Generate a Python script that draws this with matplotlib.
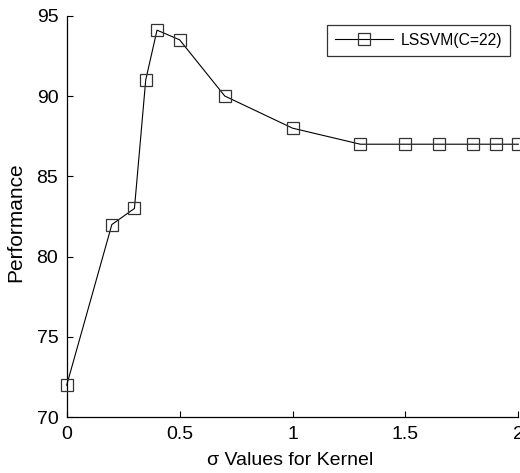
import matplotlib
matplotlib.use("Agg")
import matplotlib.pyplot as plt

plt.rcParams['font.family'] = ['Liberation Sans', 'DejaVu Sans']

sigma = [0.0, 0.2, 0.3, 0.35, 0.4, 0.5, 0.7, 1.0, 1.3, 1.5, 1.65, 1.8, 1.9, 2.0]
performance = [72.0, 82.0, 83.0, 91.0, 94.1, 93.5, 90.0, 88.0, 87.0, 87.0, 87.0, 87.0, 87.0, 87.0]
series_label = "LSSVM(C=22)"
xticks = [0, 0.5, 1, 1.5, 2]
xtick_labels = ["0", "0.5", "1", "1.5", "2"]
yticks = [70, 75, 80, 85, 90, 95]

W, H = 520, 473
fig = plt.figure(figsize=(W / 100, H / 100), dpi=100)
x0, x1 = 66.7, 518.3
y0, y1 = 417.3, 15.7
ax = fig.add_axes([x0 / W, 1 - y0 / H, (x1 - x0) / W, (y0 - y1) / H])

ax.plot(sigma, performance, color='black', linewidth=0.8, marker='s',
        markersize=9, markerfacecolor='none', markeredgecolor='#333333',
        markeredgewidth=0.9, label=series_label, clip_on=False, zorder=3)

ax.set_xlim(0, 2)
ax.set_ylim(70, 95)
ax.set_xticks(xticks)
ax.set_xticklabels(xtick_labels)
ax.set_yticks(yticks)
ax.tick_params(direction='in', length=4, width=0.8, labelsize=14, pad=6)
for s in ['top', 'right']:
    ax.spines[s].set_visible(False)
for s in ['left', 'bottom']:
    ax.spines[s].set_linewidth(0.9)

ax.set_xlabel("σ Values for Kernel", fontsize=14, labelpad=7)
ax.xaxis.label.set_x(0.495)
ax.set_ylabel("Performance", fontsize=15, labelpad=8)
ax.yaxis.label.set_y(0.486)

leg = ax.legend(loc='upper right', bbox_to_anchor=(510 / W, 1 - 25 / H),
                bbox_transform=fig.transFigure, borderaxespad=0,
                fontsize=11.3, frameon=True, fancybox=False, edgecolor='black',
                handlelength=3.7, handletextpad=0.5, borderpad=0.5)
leg.get_frame().set_linewidth(0.9)

fig.savefig("out.png", dpi=100)
